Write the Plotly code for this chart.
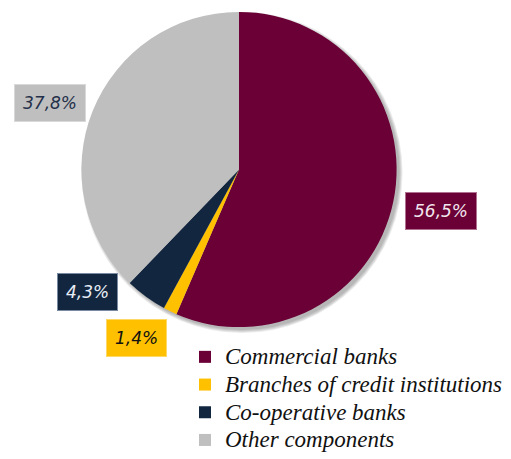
import math
import plotly.graph_objects as go

# Structure of the banking system by share
categories = ["Commercial banks", "Branches of credit institutions",
              "Co-operative banks", "Other components"]
shares = [56.5, 1.4, 4.3, 37.8]
label_texts = ["56,5%", "1,4%", "4,3%", "37,8%"]

colors = ["#6A0035", "#FFC000", "#13263F", "#BFBFBF"]
text_colors = ["#F2E6EE", "#111111", "#E8EEF6", "#24304A"]
border_colors = ["#B07090", "#FFD966", "#7A8AA0", "#D9D9D9"]
# pixel offsets of each value box from the slice's outer edge
label_shifts = [(46, -10), (-33, -27), (-58, 5), (-42, 8)]

W, H = 511, 459
cx_px, cy_px, r_px = 239, 171, 159      # drawn pie geometry (pixels)


def domain_for(cx, cy, r):
    return dict(x=[(cx - r) / W, (cx + r) / W],
                y=[1 - (cy + r) / H, 1 - (cy - r) / H])


fig = go.Figure()

# soft drop shadow behind the pie
for k in range(4):
    fig.add_trace(go.Pie(
        values=[1], labels=["shadow"], sort=False,
        marker=dict(colors=["rgba(0,0,0,0.08)"], line=dict(width=0)),
        textinfo="none", hoverinfo="skip", showlegend=False,
        domain=domain_for(cx_px + 3, cy_px + 3, r_px + k),
    ))

fig.add_trace(go.Pie(
    labels=["<span style='font-size:23px'>%s</span>" % c for c in categories],
    values=shares,
    sort=False,
    direction="clockwise",
    rotation=0,
    marker=dict(colors=colors, line=dict(width=0)),
    textinfo="none",
    hoverinfo="percent",
    domain=domain_for(cx_px, cy_px, r_px),
))

# value boxes placed around the slice midpoints
total = sum(shares)
cum = 0.0
annotations = []
for val, txt, bg, fg, bc, (dx, dy) in zip(shares, label_texts, colors,
                                          text_colors, border_colors, label_shifts):
    mid = (cum + val / 2) / total * 2 * math.pi
    cum += val
    px = cx_px + r_px * math.sin(mid)
    py = cy_px - r_px * math.cos(mid)
    annotations.append(dict(
        x=px / W, y=1 - py / H, xref="paper", yref="paper",
        xanchor="center", yanchor="middle",
        text=txt, showarrow=False, xshift=dx, yshift=dy,
        font=dict(family="DejaVu Sans", size=17, color=fg, style="italic"),
        bgcolor=bg, bordercolor=bc, borderwidth=1, borderpad=8,
    ))

fig.update_layout(
    width=W, height=H,
    margin=dict(l=0, r=0, t=0, b=0),
    paper_bgcolor="white",
    plot_bgcolor="white",
    annotations=annotations,
    showlegend=True,
    legend=dict(
        x=0.362, y=1 - 341 / H, xanchor="left", yanchor="top",
        font=dict(family="Liberation Serif", size=19, color="#111111", style="italic"),
        bgcolor="rgba(0,0,0,0)",
        itemwidth=30,
        tracegroupgap=0,
    ),
)

fig.write_html("out.html")
